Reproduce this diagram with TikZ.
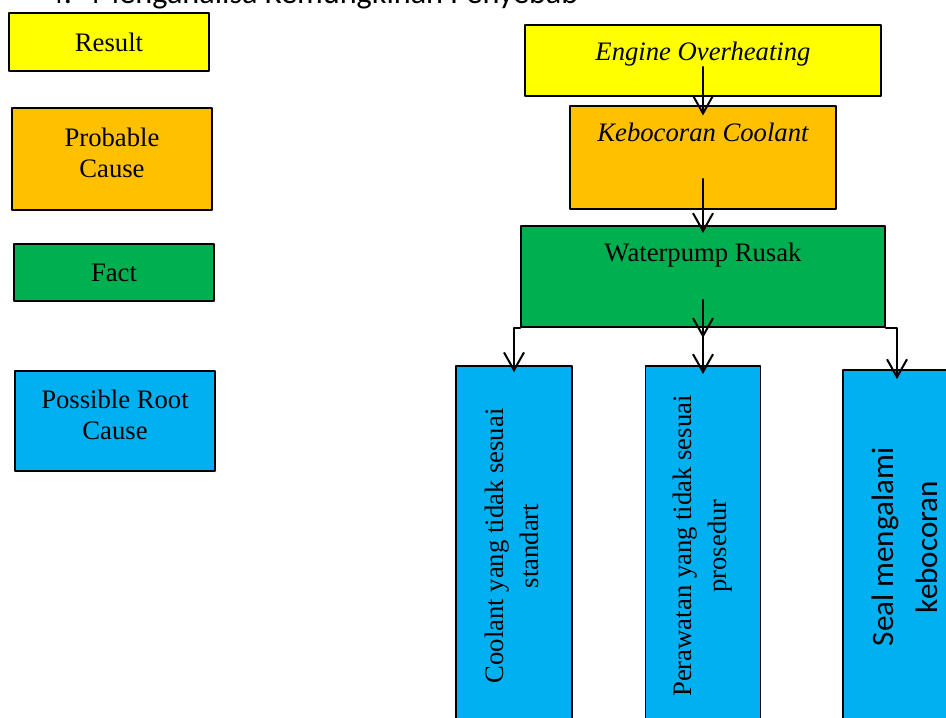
\documentclass[tikz,border=0pt]{standalone}
\usepackage{fontspec}
\setmainfont{Liberation Serif}
\newfontfamily\calibri{Carlito}
\usetikzlibrary{positioning, arrows.meta}

\definecolor{resultyellow}{HTML}{FFFF00}
\definecolor{causeorange}{HTML}{FFC000}
\definecolor{factgreen}{HTML}{00B050}
\definecolor{rootblue}{HTML}{00B0F0}

\tikzset{
  box/.style={draw=black, line width=0.8pt, inner sep=0pt, font=\fontsize{12}{14}\selectfont, align=center},
  lbl/.style={inner sep=0pt, font=\fontsize{12}{14}\selectfont, align=center},
  arr/.style={-{Straight Barb[length=8pt, width=9pt]}, line width=0.9pt},
}

\begin{document}
\begin{tikzpicture}[x=0.45pt, y=-0.45pt, line cap=round, line join=round]
        \useasboundingbox (0,0) rectangle (946,718);

        % heading, cut by the top edge
        \node[anchor=base west, inner sep=0pt, font=\calibri\fontsize{14.5}{17}\selectfont] (title) at (47,4) {4.\hspace{9pt}Menganalisa Kemungkinan Penyebab};

        % legend
        \node[box, fill=resultyellow, minimum width=90pt, minimum height=26pt] (result) at (109,42) {Result};
        \node[box, fill=causeorange, minimum width=90pt, minimum height=46pt] (probable) at (112,159) {};
        \node[lbl] (probabletxt) at ([yshift=2.7pt]probable.center) {Probable\\Cause};
        \node[box, fill=factgreen, minimum width=90pt, minimum height=25.6pt] (fact) at (114,272.5) {Fact};
        \node[box, fill=rootblue, minimum width=90pt, minimum height=45pt] (root) at (115,421) {};
        \node[lbl] (roottxt) at ([yshift=2.7pt]root.center) {Possible Root\\Cause};

        % result, probable cause, fact
        \node[box, fill=resultyellow, minimum width=160pt, minimum height=32pt] (engine) at (703,60.5) {};
        \node[lbl, anchor=base, font=\itshape\fontsize{12}{14}\selectfont] (enginetxt) at ([yshift=-16.5pt]engine.north) {Engine Overheating};
        \node[box, fill=causeorange, minimum width=119.7pt, minimum height=46.4pt] (leak) at (703,157.5) {};
        \node[lbl, anchor=base, font=\itshape\fontsize{12}{14}\selectfont] (leaktxt) at ([yshift=-16.2pt]leak.north) {Kebocoran Coolant};
        \node[box, fill=factgreen, minimum width=163.8pt, minimum height=45.5pt] (pump) at (703,276.5) {};
        \node[lbl, anchor=base] (pumptxt) at ([yshift=-16.6pt]pump.north) {Waterpump Rusak};

        % possible root causes
        \node[box, fill=rootblue, minimum width=52.2pt, minimum height=162pt] (coolant) at (514,546) {};
        \node[lbl, rotate=90, font=\fontsize{12}{15.75}\selectfont] (coolanttxt) at ([xshift=-1pt]coolant.center) {Coolant yang tidak sesuai\\standart};
        \node[box, fill=rootblue, minimum width=51.8pt, minimum height=162pt] (care) at (703,546) {};
        \node[lbl, rotate=90, font=\fontsize{12}{15.75}\selectfont] (caretxt) at (care) {Perawatan yang tidak sesuai\\prosedur};
        \node[box, fill=rootblue, minimum width=55.8pt, minimum height=159.3pt] (seal) at (905,547) {};
        \node[lbl, rotate=90, font=\calibri\fontsize{14}{20}\selectfont] (sealtxt) at (seal) {Seal mengalami\\kebocoran};

        % arrows
        \draw[arr] (enginetxt.south) -- ([yshift=3pt]leaktxt.north);
        \draw[arr] ([yshift=14pt]leak.south) -- ([yshift=4.5pt]pumptxt.north);
        \draw[arr] ([yshift=12.6pt]pump.south) -- ([yshift=-4.5pt]pump.south);
        \draw[arr] (pump.south) -- ([yshift=-4pt]care.north);
        \draw[arr] (pump.south west) -| ([yshift=-3.2pt]coolant.north);
        \draw[arr] (pump.south east) -| ([xshift=-3.6pt, yshift=-4.5pt]seal.north);
\end{tikzpicture}
\end{document}
